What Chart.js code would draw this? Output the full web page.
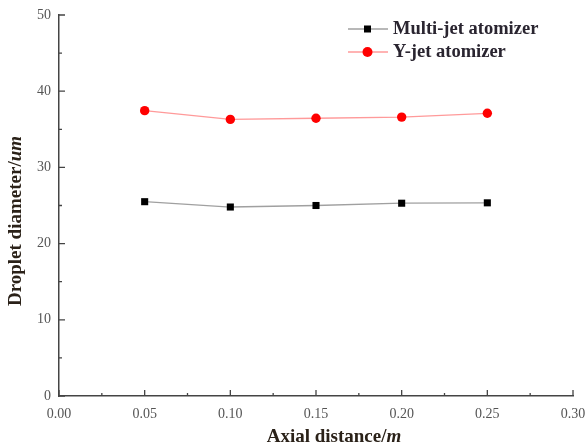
<!DOCTYPE html>
<html>
<head>
<meta charset="utf-8">
<script src="https://cdn.jsdelivr.net/npm/chart.js@4"></script>
<style>
  html, body { margin: 0; padding: 0; background: #fff; }
  #wrap { width: 587px; height: 448px; }
</style>
</head>
<body>
<div id="wrap"><canvas id="chart" width="587" height="448"></canvas></div>
<script>
// --- DATA ---
const distances = [0.05, 0.10, 0.15, 0.20, 0.25];
const multiJet = [25.5, 24.8, 25.0, 25.3, 25.35];
const yJet = [37.45, 36.3, 36.45, 36.6, 37.1];
const seriesNames = ["Multi-jet atomizer", "Y-jet atomizer"];
const xTicks = [0, 0.05, 0.10, 0.15, 0.20, 0.25, 0.30];
const yTicks = [0, 10, 20, 30, 40, 50];

const SERIF = "'Liberation Serif', 'Times New Roman', serif";

// inward major + minor ticks
const inwardTicks = {
    id: 'inwardTicks',
    afterDraw(chart) {
        const { ctx, scales: { x, y } } = chart;
        ctx.save();
        ctx.strokeStyle = '#444';
        ctx.lineWidth = 1.3;
        ctx.beginPath();
        xTicks.forEach((v, i) => {
            const px = x.getPixelForValue(v);
            ctx.moveTo(px, y.bottom); ctx.lineTo(px, y.bottom - 6);
            if (i < xTicks.length - 1) {
                const pm = x.getPixelForValue((v + xTicks[i + 1]) / 2);
                ctx.moveTo(pm, y.bottom); ctx.lineTo(pm, y.bottom - 3);
            }
        });
        yTicks.forEach((v, i) => {
            const py = y.getPixelForValue(v);
            ctx.moveTo(x.left, py); ctx.lineTo(x.left + 6, py);
            if (i < yTicks.length - 1) {
                const pm = y.getPixelForValue((v + yTicks[i + 1]) / 2);
                ctx.moveTo(x.left, pm); ctx.lineTo(x.left + 3, pm);
            }
        });
        ctx.stroke();
        ctx.restore();
    }
};

// axis titles with italic units
const axisTitles = {
    id: 'axisTitles',
    afterDraw(chart) {
        const { ctx } = chart;
        ctx.save();
        ctx.fillStyle = '#2a2118';
        ctx.textBaseline = 'middle';
        ctx.textAlign = 'left';
        const reg = `bold 19px ${SERIF}`, ital = `italic bold 19px ${SERIF}`;
        // x title
        const xa = 'Axial distance/', xb = 'm';
        ctx.font = reg;
        const wa = ctx.measureText(xa).width;
        ctx.font = ital;
        const wb = ctx.measureText(xb).width;
        let sx = 334 - (wa + wb) / 2;
        ctx.font = reg;
        ctx.fillText(xa, sx, 437);
        ctx.font = ital;
        ctx.fillText(xb, sx + wa, 437);
        // y title
        const ya = 'Droplet diameter/', yb = 'um';
        ctx.translate(16, 221);
        ctx.rotate(-Math.PI / 2);
        ctx.font = reg;
        const ha = ctx.measureText(ya).width;
        ctx.font = ital;
        const hb = ctx.measureText(yb).width;
        sx = -(ha + hb) / 2;
        ctx.font = reg;
        ctx.fillText(ya, sx, 0);
        ctx.font = ital;
        ctx.fillText(yb, sx + ha, 0);
        ctx.restore();
    }
};

// legend: line segment + marker + bold text
const lineLegend = {
    id: 'lineLegend',
    afterDraw(chart) {
        const { ctx } = chart;
        ctx.save();
        chart.data.datasets.forEach((ds, i) => {
            const ly = 29 + i * 23;
            ctx.strokeStyle = ds.borderColor;
            ctx.lineWidth = 1.3;
            ctx.beginPath();
            ctx.moveTo(348, ly); ctx.lineTo(388, ly);
            ctx.stroke();
            ctx.fillStyle = ds.pointBackgroundColor;
            if (ds.pointStyle === 'rect') {
                ctx.fillRect(364, ly - 3.5, 7, 7);
            } else {
                ctx.beginPath();
                ctx.arc(367.5, ly, 5, 0, Math.PI * 2);
                ctx.fill();
            }
            ctx.fillStyle = '#2a2530';
            ctx.font = `bold 18.5px ${SERIF}`;
            ctx.textAlign = 'left';
            ctx.textBaseline = 'middle';
            ctx.fillText(ds.label, 393, ly);
        });
        ctx.restore();
    }
};

new Chart(document.getElementById('chart'), {
    type: 'line',
    data: {
        datasets: [
            {
                label: seriesNames[0],
                data: distances.map((d, i) => ({ x: d, y: multiJet[i] })),
                borderColor: '#a0a0a0',
                borderWidth: 1.3,
                pointStyle: 'rect',
                pointRadius: 5,
                pointBackgroundColor: '#000',
                pointBorderColor: '#000',
                pointBorderWidth: 0
            },
            {
                label: seriesNames[1],
                data: distances.map((d, i) => ({ x: d, y: yJet[i] })),
                borderColor: '#ff9a9a',
                borderWidth: 1.3,
                pointStyle: 'circle',
                pointRadius: 4.7,
                pointBackgroundColor: '#ff0000',
                pointBorderColor: '#ff0000',
                pointBorderWidth: 0
            }
        ]
    },
    options: {
        responsive: false,
        animation: false,
        layout: { padding: { top: 15, right: 14, left: 0, bottom: 0 } },
        plugins: { legend: { display: false }, tooltip: { enabled: false } },
        scales: {
            x: {
                type: 'linear',
                min: 0, max: 0.3,
                afterBuildTicks: s => { s.ticks = xTicks.map(v => ({ value: v })); },
                afterFit: s => { s.height = 52; s.paddingLeft = 0; s.paddingRight = 0; },
                grid: { display: false, drawTicks: false },
                border: { display: true, color: '#444', width: 1.5 },
                ticks: {
                    padding: 10,
                    color: '#555',
                    font: { family: SERIF, size: 14 },
                    callback: v => v.toFixed(2)
                }
            },
            y: {
                min: 0, max: 50,
                afterBuildTicks: s => { s.ticks = yTicks.map(v => ({ value: v })); },
                afterFit: s => { s.width = 59; s.paddingTop = 0; s.paddingBottom = 0; },
                grid: { display: false, drawTicks: false },
                border: { display: true, color: '#444', width: 1.5 },
                ticks: {
                    padding: 8,
                    color: '#555',
                    font: { family: SERIF, size: 14 }
                }
            }
        }
    },
    plugins: [inwardTicks, axisTitles, lineLegend]
});
</script>
</body>
</html>
